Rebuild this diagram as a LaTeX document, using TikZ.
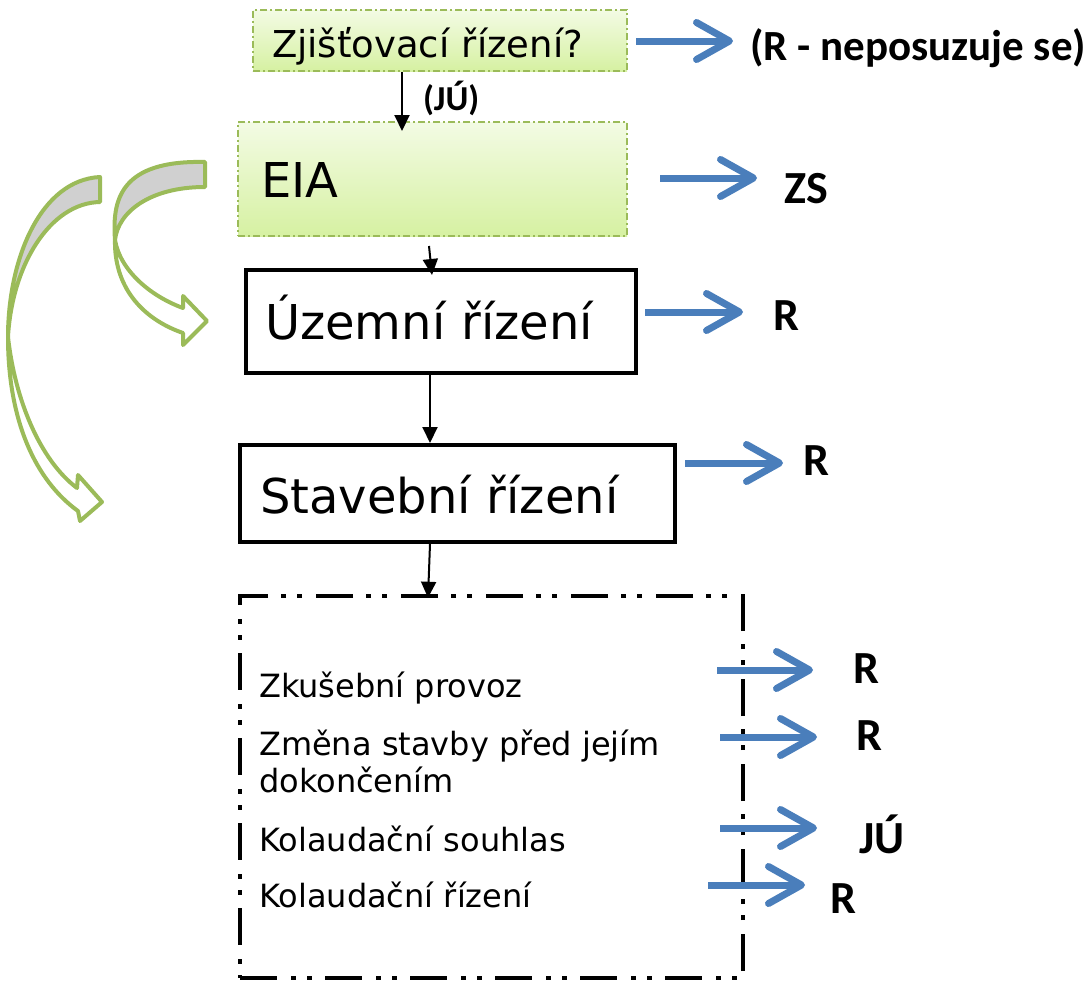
\documentclass[tikz,border=0pt]{standalone}
\usepackage{fontspec}
\setmainfont{DejaVu Sans}
\newfontfamily\calib{Carlito}
\usetikzlibrary{arrows.meta}

\definecolor{zelena}{RGB}{155,187,89}
\definecolor{zelTop}{RGB}{243,251,228}
\definecolor{zelBot}{RGB}{214,241,162}
\definecolor{modra}{RGB}{74,126,187}
\definecolor{seda}{RGB}{208,208,208}

\tikzset{
	zelbox/.style={rectangle, draw=zelena, line width=2pt, dash pattern=on 7pt off 3pt on 2pt off 3pt,
		top color=zelTop, bottom color=zelBot, align=left, text depth=0pt},
	cernybox/.style={rectangle, draw, line width=4pt, align=left, text depth=0pt, font=\fontsize{48}{56}\selectfont},
	sipka/.style={line width=2pt, -{Triangle[length=16pt,width=15pt]}},
	modrasipka/.style={draw=modra, line width=7pt, -{Straight Barb[length=33pt,width=37pt,round]}},
	vysl/.style={anchor=base west, inner sep=0pt, font=\calib\bfseries\fontsize{#1}{50}\selectfont},
	vysl/.default=46,
	krok/.style={anchor=base west, inner sep=0pt, align=left, font=\fontsize{32}{37}\selectfont},
	oblouk/.style={draw=zelena, line width=4pt, line join=round},
}

\begin{document}
\begin{tikzpicture}[x=1pt, y=-1pt]
	\useasboundingbox (0,0) rectangle (1087,980);

	% boxes
	\node[zelbox, minimum width=374pt, minimum height=61pt, inner xsep=19pt, text width=336pt, text height=33pt,
		font=\fontsize{37}{42}\selectfont] (zjist) at (440,40.5) {Zjišťovací řízení?};
	\node[zelbox, minimum width=389pt, minimum height=114pt, inner xsep=23pt, text width=343pt, text height=37pt,
		font=\fontsize{48}{56}\selectfont] (eia) at (432.5,179) {EIA};
	\node[cernybox, minimum width=390pt, minimum height=103pt, inner xsep=19pt, text width=352pt, text height=36pt] (uzemni) at (441,321.5) {Územní řízení};
	\node[cernybox, minimum width=435pt, minimum height=97pt, inner xsep=20pt, text width=395pt, text height=40pt] (stavebni) at (457.5,493.5) {Stavební řízení};
	\node[draw, line width=4.5pt, dash pattern=on 37pt off 14pt on 5pt off 11pt on 5pt off 13pt,
		minimum width=503pt, minimum height=382pt] (faze) at (491.5,787) {};

	\node[krok] (zkus) at (259,697) {Zkušební provoz};
	\node[krok] (zmena) at (259,792) {Změna stavby před jejím\\dokončením};
	\node[krok] (ksouhl) at (259,851) {Kolaudační souhlas};
	\node[krok] (kriz) at (259,907) {Kolaudační řízení};

	% black arrows
	\draw[sipka] ([xshift=-38pt]zjist.south) -- ([xshift=-30.5pt,yshift=-10pt]eia.north)
		node[vysl=35] (ju) at (422,110) {(JÚ)};
	\draw[sipka] ([xshift=-3.5pt,yshift=-9pt]eia.south) -- ([xshift=-9pt,yshift=-7pt]uzemni.north);
	\draw[sipka] ([xshift=-11pt]uzemni.south) -- ([xshift=-27.5pt]stavebni.north);
	\draw[sipka] ([xshift=-27.5pt]stavebni.south) -- ([xshift=-63.5pt,yshift=-4pt]faze.north);

	% blue arrows and results
	\foreach \n/\xa/\xb/\ya/\xl/\yl/\s/\t in {
		1/636/733/41/750/60/43/(R - neposuzuje se),
		2/660/757/178/784/203/46/ZS,
		3/645/743/312/773/330/46/R,
		4/685/783/463/803/475/46/R,
		5/717/813/670/853/683/46/R,
		6/720/817/737/856/750/46/R,
		7/720/817/828/859/853/46/JÚ,
		8/708/805/885/830/913/46/R}{
		\coordinate (m\n-a) at (\xa,\ya);
		\coordinate (m\n-b) at (\xb,\ya);
		\draw[modrasipka] (m\n-a) -- (m\n-b);
		\node[vysl=\s] (v\n) at (\xl,\yl) {\t};
	}

	% green curved arrows
	\draw[oblouk, fill=seda] (205,162) .. controls (120,160) and (112,200) .. (115,240)
		.. controls (118,212) and (150,187) .. (205,187) -- cycle;
	\draw[oblouk, fill=white] (115,240) .. controls (114,285) and (140,318) .. (183,333)
		-- (183,345) -- (207,321) -- (183,296) -- (183,308)
		.. controls (150,296) and (120,270) .. (115,240) -- cycle;
	\draw[oblouk, fill=seda] (100,177) .. controls (40,180) and (8,260) .. (8,337)
		.. controls (12,265) and (50,203) .. (100,202) -- cycle;
	\draw[oblouk, fill=white] (8,337) .. controls (8,420) and (35,480) .. (78,511)
		-- (80,521) -- (102,502) -- (78,475) -- (77,488)
		.. controls (40,460) and (15,400) .. (8,337) -- cycle;
\end{tikzpicture}
\end{document}
